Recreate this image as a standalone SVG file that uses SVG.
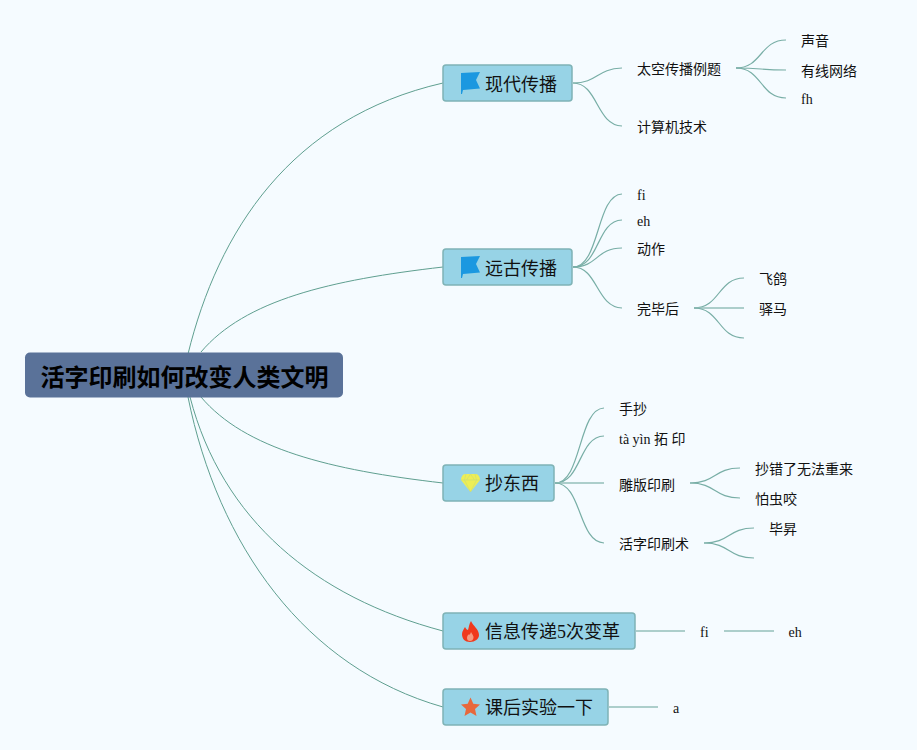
<svg xmlns="http://www.w3.org/2000/svg" width="917" height="750" viewBox="0 0 917 750">
<style>
text{font-family:"Liberation Serif","Noto Sans CJK SC",serif;fill:#111}
.t{font-size:14px}
.m{font-size:18px}
.box{fill:#97d3e6;stroke:#7fb3b6;stroke-width:1.5}
#c path{fill:none;stroke:#5f9f90;stroke-width:1}
#c .s{stroke:#78aea6;stroke-width:1.2}
#c .l{stroke:#93bfba;stroke-width:1.5}
</style>
<rect width="917" height="750" fill="#f5fbff"/>
<g id="c">
<path d="M188 354C218 232 290 118 443 83"/>
<path d="M201 352C245 300 330 280 443 267"/>
<path d="M201 397C245 449 330 470 443 483"/>
<path d="M190 397C222 520 315 597 443 631"/>
<path d="M188 397C218 545 305 668 443 707"/>
<path class="s" d="M573 83C598 83 596 69 622 68"/>
<path class="s" d="M573 83C598 83 596 125 622 126"/>
<path class="s" d="M736 68C762 68 760 40 786 40"/>
<path class="s" d="M736 68C762 68 760 70 786 70"/>
<path class="s" d="M736 68C762 68 760 98 786 98"/>
<path class="s" d="M573 267C600 267 596 195 622 194"/>
<path class="s" d="M573 267C600 267 596 221 622 220"/>
<path class="s" d="M573 267C598 267 596 248 622 248"/>
<path class="s" d="M573 267C598 267 596 307 622 308"/>
<path class="s" d="M694 308C720 308 718 278 744 278"/>
<path class="l" d="M694 308L744 308"/>
<path class="s" d="M694 308C720 308 718 338 744 338"/>
<path class="s" d="M555 483C582 483 578 409 604 408"/>
<path class="s" d="M555 483C582 483 578 437 604 436"/>
<path class="l" d="M555 483L604 483"/>
<path class="s" d="M555 483C582 483 578 542 604 543"/>
<path class="s" d="M690 483C716 483 714 468 740 468"/>
<path class="s" d="M690 483C716 483 714 498 740 498"/>
<path class="s" d="M704 543C730 543 728 528 754 528"/>
<path class="s" d="M704 543C730 543 728 558 754 558"/>
<path class="l" d="M636 631L685 631"/>
<path class="l" d="M724 631L774 631"/>
<path class="l" d="M609 707L658 707"/>
</g>
<g id="root"><rect x="25" y="352.500" width="318" height="45" rx="5" fill="#5a7299"/><text x="40.500" y="386" font-size="24" font-weight="700" style="fill:#000">活字印刷如何改变人类文明</text></g>
<g id="n1"><rect class="box" x="443" y="65" width="129" height="36" rx="3"/><path d="M461 73L480 72L476 80L480 88.500L463 90L462 94L461 94Z" fill="#1b98e0"/><text class="m" x="485" y="91">现代传播</text></g>
<g id="n2"><rect class="box" x="443" y="249" width="129" height="36" rx="3"/><path d="M461 257L480 256L476 264L480 272.500L463 274L462 278L461 278Z" fill="#1b98e0"/><text class="m" x="485" y="275">远古传播</text></g>
<g id="n3"><rect class="box" x="443" y="465" width="111" height="36" rx="3"/><path d="M465 474H476C478 474 480 477 480 480L470.500 492L461 480C461 477 463 474 465 474Z" fill="#eeee55"/><path d="M461 480H480M466 474L464.500 480L470.500 492L476.500 480L475 474M470.500 474L466.500 480M470.500 474L474.500 480" fill="none" stroke="#c8dc7a" stroke-width=".6"/><text class="m" x="485" y="490">抄东西</text></g>
<g id="n4"><rect class="box" x="443" y="613" width="192" height="36" rx="3"/><path d="M471 621C473 626 479 629 479 635C479 639 475 642 470 642C465 642 462 639 462 634C462 631 464 629 465 627C466 629 467 630 468 630C469 627 469 624 471 621Z" fill="#f0391c"/><path d="M471 632C472 634 474 636 473.500 638C473 640 472 641 470 641C468 641 467 640 467 638C467 636 468 635 468.500 634.500C469.500 635 470.500 634 471 632Z" fill="#f59a80"/><text class="m" x="485" y="638">信息传递5次变革</text></g>
<g id="n5"><rect class="box" x="443" y="689" width="165" height="36" rx="3"/><path d="M470.500 697.500L473.300 703.800L480 704.500L475 709L476.500 716L470.500 712.500L464.500 716L466 709L461 704.500L467.700 703.800Z" fill="#e8683c"/><text class="m" x="485" y="714">课后实验一下</text></g>
<g id="a1"><text class="t" x="637" y="74">太空传播例题</text></g>
<g id="a2"><text class="t" x="637" y="132">计算机技术</text></g>
<g id="a3"><text class="t" x="801" y="46">声音</text></g>
<g id="a4"><text class="t" x="801" y="76">有线网络</text></g>
<g id="a5"><text class="t" x="801" y="104">fh</text></g>
<g id="b1"><text class="t" x="637" y="200">fi</text></g>
<g id="b2"><text class="t" x="637" y="226">eh</text></g>
<g id="b3"><text class="t" x="637" y="254">动作</text></g>
<g id="b4"><text class="t" x="637" y="314">完毕后</text></g>
<g id="b5"><text class="t" x="759" y="284">飞鸽</text></g>
<g id="b6"><text class="t" x="759" y="314">驿马</text></g>
<g id="d1"><text class="t" x="619" y="414">手抄</text></g>
<g id="d2"><text class="t" x="619" y="444">tà yìn 拓 印</text></g>
<g id="d3"><text class="t" x="619" y="489.500">雕版印刷</text></g>
<g id="d4"><text class="t" x="619" y="549">活字印刷术</text></g>
<g id="d5"><text class="t" x="755" y="474">抄错了无法重来</text></g>
<g id="d6"><text class="t" x="755" y="504">怕虫咬</text></g>
<g id="d7"><text class="t" x="769" y="534">毕昇</text></g>
<g id="e1"><text class="t" x="700" y="637">fi</text></g>
<g id="e2"><text class="t" x="788.500" y="637">eh</text></g>
<g id="f1"><text class="t" x="673" y="713">a</text></g>
</svg>
